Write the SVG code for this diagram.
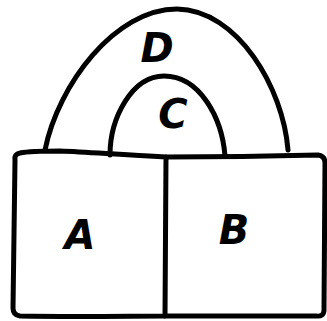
<svg xmlns="http://www.w3.org/2000/svg" width="327" height="321" viewBox="0 0 327 321">
<style>
.s{fill:none;stroke:#000;stroke-width:5;stroke-linecap:round;stroke-linejoin:round}
.t{font-family:"DejaVu Sans",sans-serif;font-style:italic;font-weight:bold;font-size:40px;fill:#000;text-anchor:middle}
</style>
<rect width="327" height="321" fill="#fff"/>
<g id="D"><path class="s" d="M45,150 C58,85 115,9 177,9 C238,10 283,88 288,150"/><text class="t" x="157" y="62">D</text></g>
<g id="C"><path class="s" d="M110,155 C110,118 132,76 164,76 C200,76 222,118 225,156"/><text class="t" x="173" y="128">C</text></g>
<g id="A"><path class="s" d="M166,157 C120,155 90,152 60,151 C40,151 25,152 20,153 Q14,154 15,160 L13,308 Q13,315 20,316 C80,317 130,316 165,316 Z"/><text class="t" x="80" y="249">A</text></g>
<g id="B"><path class="s" d="M166,157 C220,157 280,156 318,155 Q325,156 325,163 L324,310 Q324,317 316,316 C260,316 200,316 165,316"/><text class="t" x="234" y="244">B</text></g>
<g id="connectors"/>
</svg>
